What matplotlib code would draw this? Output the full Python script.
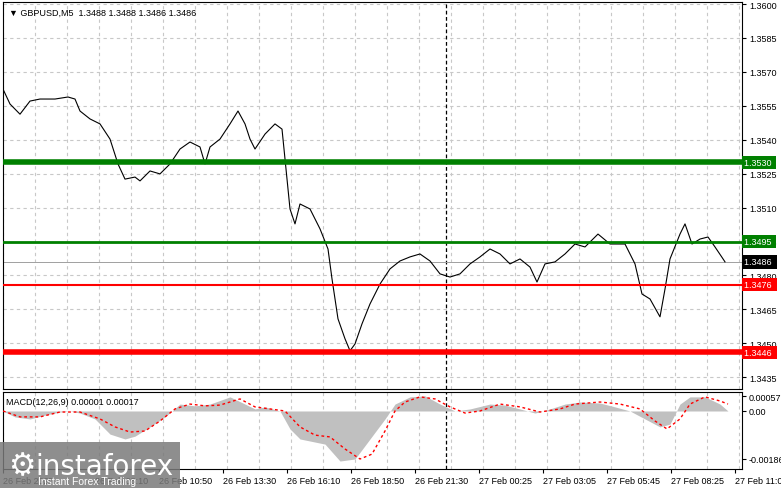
import matplotlib.pyplot as plt
from matplotlib.patches import Rectangle

# bar index (5-minute bars) and close price
bars = [1.5, 5, 10, 15, 20, 27.5, 34, 37.5, 40, 45, 50, 55, 59, 62.5, 67.5, 70, 75, 80, 85, 90,
        95, 100, 102.5, 105, 110, 115, 119, 122.5, 125, 127.5, 132.5, 137.5, 141, 142.5, 145, 147.5,
        150, 155, 160, 164, 166, 169, 172.5, 175, 177.5, 181, 185, 190, 195, 200, 205, 210, 215, 220,
        225, 230, 235, 240, 245, 250, 255, 260, 265, 268.5, 272.5, 277.5, 282.5, 287.5, 292.5, 299,
        305, 312.5, 317.5, 321, 325, 330, 332.5, 335, 340, 342.5, 346, 350, 354, 357.5, 361, 362.5]
close = [1.35624, 1.35558, 1.35513, 1.35571, 1.35580, 1.35580, 1.35589, 1.35580, 1.35527, 1.35492,
         1.35470, 1.35403, 1.35293, 1.35226, 1.35235, 1.35218, 1.35262, 1.35249, 1.35293, 1.35359,
         1.35390, 1.35368, 1.35293, 1.35368, 1.35403, 1.35470, 1.35527, 1.35470, 1.35403, 1.35359,
         1.35425, 1.35470, 1.35447, 1.35315, 1.35094, 1.35028, 1.35116, 1.35094, 1.35006, 1.34917,
         1.34785, 1.34608, 1.34520, 1.34467, 1.34497, 1.34586, 1.34674, 1.34762, 1.34829, 1.34864,
         1.34882, 1.34895, 1.34864, 1.34807, 1.34793, 1.34807, 1.34851, 1.34882, 1.34917, 1.34895,
         1.34851, 1.34873, 1.34837, 1.34771, 1.34851, 1.34860, 1.34895, 1.34939, 1.34926, 1.34983,
         1.34939, 1.34939, 1.34851, 1.34718, 1.34696, 1.34617, 1.34740, 1.34873, 1.34983, 1.35028,
         1.34939, 1.34961, 1.34970, 1.34926, 1.34880, 1.34860]

hist_x = [1.5, 7.5, 15, 22.5, 30, 35, 40, 47.5, 55, 62.5, 67.5, 75, 82.5, 90, 97.5, 105, 115, 122.5,
          127.5, 132.5, 140, 145, 150, 155, 162.5, 170, 177.5, 185, 192.5, 197.5, 205, 212.5, 220,
          227.5, 235, 245, 252.5, 260, 267.5, 275, 282.5, 290, 300, 307.5, 315, 322.5, 330, 335, 340,
          345, 352.5, 360, 364]
hist = [0, -0.23, -0.31, -0.16, -0.04, 0, -0.08, -0.31, -0.9, -1.09, -0.98, -0.62, -0.23, 0.27, 0.20,
        0.27, 0.55, 0.27, 0.08, 0.16, 0, -0.7, -1.09, -1.17, -1.29, -1.95, -1.87, -1.09, -0.31, 0.27,
        0.55, 0.59, 0.27, 0, 0.08, 0.27, 0.23, 0.08, -0.08, 0.08, 0.27, 0.35, 0.31, 0.16, 0, -0.31,
        -0.62, -0.51, 0.27, 0.55, 0.55, 0.27, 0]
sig_x = [1.5, 10, 20, 30, 40, 50, 57.5, 65, 72.5, 80, 87.5, 95, 102.5, 110, 120, 127.5, 135, 142.5,
         150, 157.5, 165, 172.5, 180, 186, 192.5, 197.5, 202.5, 210, 217.5, 225, 232.5, 240, 250,
         260, 270, 280, 287.5, 300, 310, 320, 327.5, 333.5, 340, 345, 352.5, 360, 364]
signal = [0, -0.23, -0.23, -0.04, -0.04, -0.31, -0.62, -0.82, -0.78, -0.39, 0.08, 0.27, 0.20, 0.23,
          0.47, 0.16, 0.08, 0, -0.62, -0.94, -1.01, -1.48, -1.87, -1.68, -0.78, 0, 0.35, 0.55, 0.47,
          0.16, -0.08, 0, 0.27, 0.16, -0.04, 0.08, 0.27, 0.35, 0.27, 0.08, -0.39, -0.70, -0.31, 0.27,
          0.55, 0.39, 0.27]

price_ticks = [1.3600, 1.3585, 1.3570, 1.3555, 1.3540, 1.3525, 1.3510, 1.3495, 1.3480, 1.3465, 1.3450, 1.3435]
time_pos = [1.5, 47.5, 79.5, 111.5, 143.5, 175.5, 207.5, 239.5, 271.5, 303.5, 335.5, 367.5]
time_labels = ['26 Feb 2025', '26 Feb 08:10', '26 Feb 10:50', '26 Feb 13:30', '26 Feb 16:10',
               '26 Feb 18:50', '26 Feb 21:30', '27 Feb 00:25', '27 Feb 03:05', '27 Feb 05:45',
               '27 Feb 08:25', '27 Feb 11:05']
levels = [1.3530, 1.3495, 1.3476, 1.3446]
level_colors = ['#008000', '#008000', '#ff0000', '#ff0000']
level_widths = [4, 2, 1.5, 4]
last_price = 1.3486

plt.rcParams['font.family'] = 'Liberation Sans'
FS = 6.5
fig = plt.figure(figsize=(7.81, 4.89), dpi=100)
W, H = 781, 489
ax = fig.add_axes([3 / W, 1 - 390 / H, 739 / W, 387 / H])
mx = fig.add_axes([3 / W, 1 - 470 / H, 739 / W, 77 / H])

grid_kw = dict(color='#c8c8c8', linestyle=(0, (3, 3)), linewidth=0.8)
xg = [1.5 + 16 * i for i in range(24)]
for a in (ax, mx):
    a.set_xlim(1.5, 371)
    for g in xg:
        a.axvline(g, zorder=0, **grid_kw)
    a.axvline(223, color='black', linestyle=(0, (3, 2)), linewidth=0.9, zorder=1)
    a.tick_params(axis='y', which='both', right=True, left=False, labelright=True, labelleft=False,
                  labelsize=FS, length=3, pad=2)
    for s in a.spines.values():
        s.set_linewidth(0.8)

ax.set_ylim(1.34298, 1.36009)
for p in price_ticks:
    ax.axhline(p, zorder=0, **grid_kw)
ax.set_yticks(price_ticks)
ax.set_yticklabels(['%.4f' % p for p in price_ticks])
ax.set_xticks([])
ax.plot(bars, close, color='black', linewidth=0.8, zorder=3)
ax.axhline(last_price, color='#a0a0a0', linewidth=0.7, zorder=2)
for lv, c, lw in zip(levels, level_colors, level_widths):
    ax.axhline(lv, color=c, linewidth=lw, zorder=4)
    ax.text(1.003, lv, '%.4f ' % lv, transform=ax.get_yaxis_transform(), fontsize=FS, color='white',
            va='center', ha='left', zorder=20,
            bbox=dict(boxstyle='square,pad=0.25', fc=c, ec='none'), clip_on=False)
ax.text(1.003, last_price, '%.4f ' % last_price, transform=ax.get_yaxis_transform(), fontsize=FS,
        color='white', va='center', ha='left', zorder=20,
        bbox=dict(boxstyle='square,pad=0.25', fc='black', ec='none'), clip_on=False)
ax.text(0.008, 0.985, '\u25bc GBPUSD,M5  1.3488 1.3488 1.3486 1.3486', transform=ax.transAxes,
        fontsize=FS, va='top', ha='left', family=['Liberation Sans', 'DejaVu Sans'])

mx.set_ylim(-0.00226, 0.00074)
mx.fill_between(hist_x, [h / 1000 for h in hist], 0, color='#c0c0c0', linewidth=0, zorder=2)
mx.plot(sig_x, [s / 1000 for s in signal], color='red', linestyle=(0, (2, 2)), linewidth=1, zorder=3)
mx.set_yticks([0.00057, 0.0, -0.00186])
mx.set_yticklabels(['0.00057', '0.00', '-0.00186'])
mx.set_xticks(time_pos)
mx.set_xticklabels(time_labels, fontsize=FS, ha='left')
mx.tick_params(axis='x', length=3, pad=2)
mx.text(0.004, 0.93, 'MACD(12,26,9) 0.00001 0.00017', transform=mx.transAxes, fontsize=FS, va='top')

# watermark
fig.patches.append(Rectangle((0, 0), 180 / W, 46 / H, transform=fig.transFigure,
                             fc='#7a7a7a', alpha=0.85, ec='none', zorder=10))
fig.text(35 / W, 22 / H, 'instaforex', fontsize=20, color='white', va='center', zorder=11,
         family='DejaVu Sans')
fig.text(38 / W, 7 / H, 'Instant Forex Trading', fontsize=7.5, color='white', va='center', zorder=11)
fig.text(8 / W, 22 / H, '\u2699', fontsize=22, color='white', va='center', zorder=11,
         family='DejaVu Sans')

fig.savefig('out.png', dpi=100)
